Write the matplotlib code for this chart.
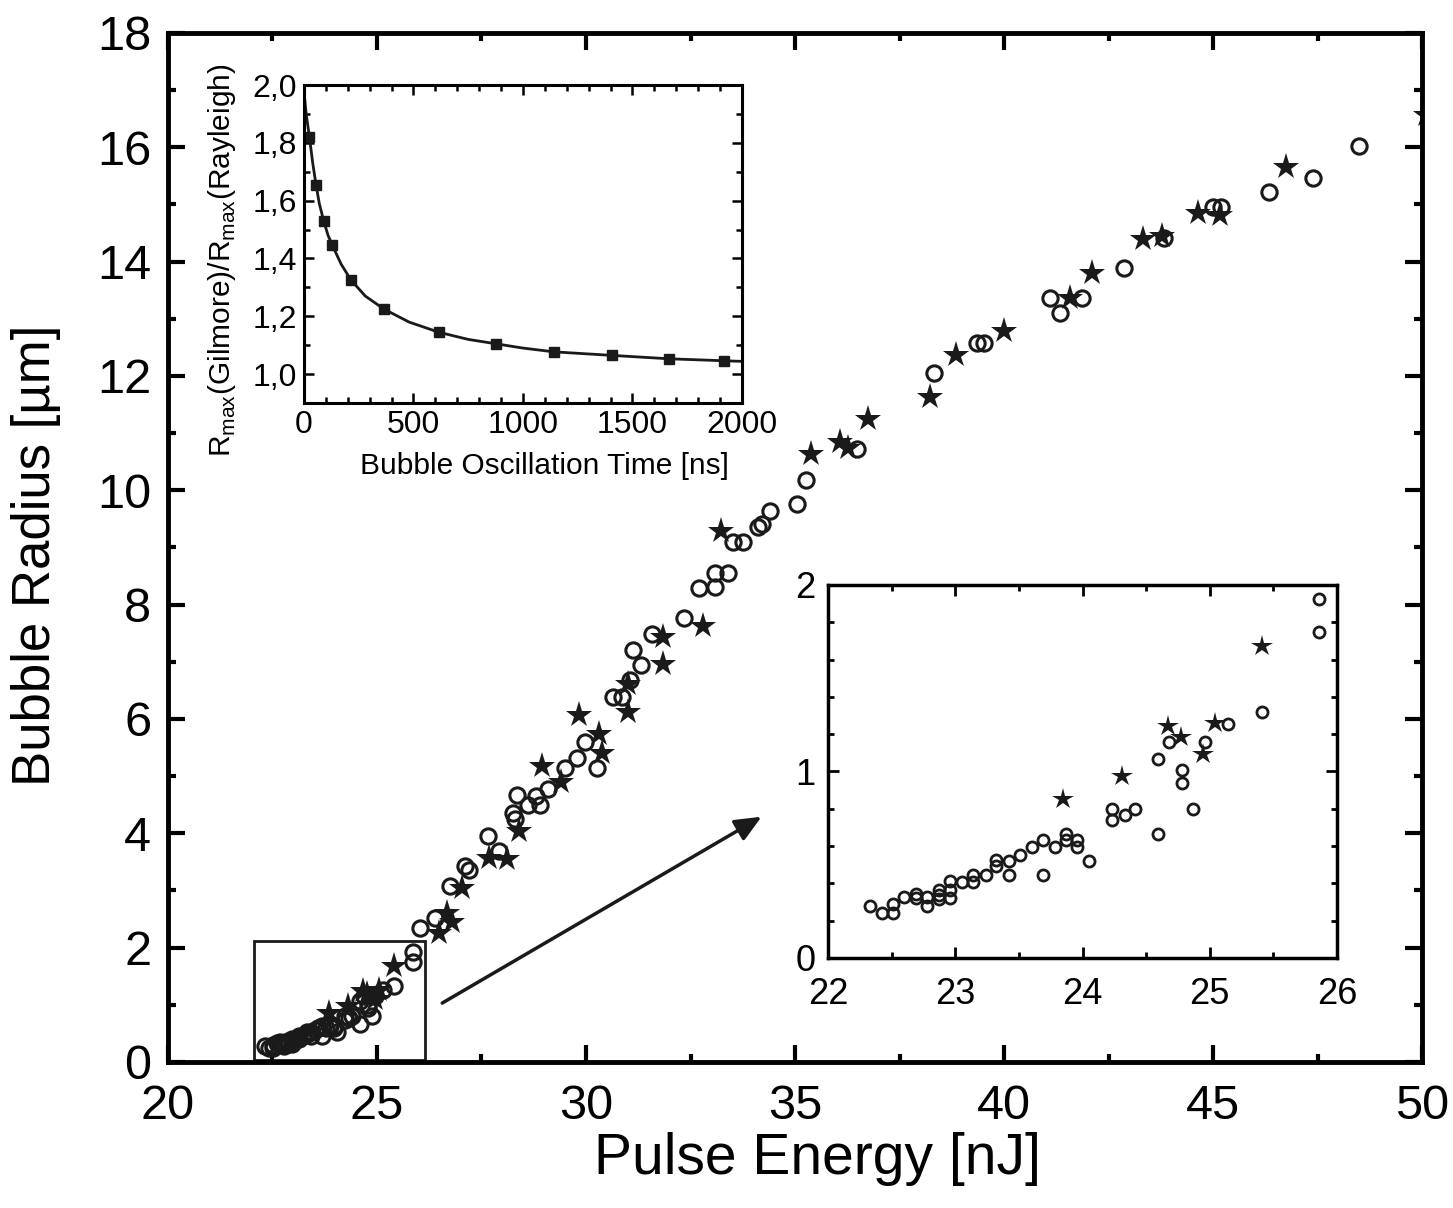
import matplotlib
matplotlib.use("Agg")
import matplotlib.pyplot as plt
from matplotlib.patches import Rectangle
from matplotlib.ticker import MultipleLocator

plt.rcParams['font.family'] = ['Liberation Sans', 'DejaVu Sans']
plt.rcParams['mathtext.fontset'] = 'custom'
plt.rcParams['mathtext.rm'] = 'Liberation Sans'

# low-energy data (22-26 nJ), shown in the zoom inset and in the main plot
low_circ_x = [22.33, 22.42, 22.51, 22.51, 22.60, 22.69, 22.69, 22.78, 22.78, 22.87,
              22.87, 22.87, 22.96, 22.96, 22.96, 23.05, 23.14, 23.14, 23.24, 23.32,
              23.32, 23.42, 23.42, 23.51, 23.60, 23.69, 23.69, 23.78, 23.87, 23.87,
              23.96, 23.96, 24.05, 24.23, 24.23, 24.33, 24.41, 24.59, 24.59, 24.68,
              24.78, 24.78, 24.87, 24.96, 25.14, 25.41, 25.86, 25.86]
low_circ_y = [0.28, 0.24, 0.29, 0.24, 0.325, 0.345, 0.32, 0.325, 0.277, 0.366,
              0.316, 0.34, 0.41, 0.366, 0.32, 0.405, 0.446, 0.405, 0.446, 0.523,
              0.495, 0.518, 0.446, 0.554, 0.595, 0.634, 0.446, 0.595, 0.666, 0.63,
              0.634, 0.595, 0.518, 0.80, 0.737, 0.768, 0.80, 1.066, 0.666, 1.16,
              1.005, 0.94, 0.80, 1.16, 1.255, 1.32, 1.75, 1.925]
low_star_x = [23.85, 24.31, 24.67, 24.77, 24.95, 25.04, 25.41]
low_star_y = [0.854, 0.973, 1.245, 1.184, 1.095, 1.259, 1.67]

# higher-energy data
high_circ_x = [26.03, 26.39, 26.75, 27.11, 27.21, 27.66, 27.93, 28.26, 28.34, 28.30,
               28.62, 28.80, 28.90, 29.10, 29.50, 29.78, 29.98, 30.26, 30.65, 30.85,
               31.05, 31.12, 31.31, 31.57, 32.34, 32.71, 33.09, 33.09, 33.40, 33.52,
               33.76, 34.12, 34.20, 34.39, 35.05, 35.26, 36.49, 38.32, 39.35, 39.52,
               41.09, 41.35, 41.86, 42.88, 43.83, 44.99, 45.18, 46.35, 47.38, 48.48]
high_circ_y = [2.35, 2.52, 3.08, 3.42, 3.35, 3.95, 3.69, 4.35, 4.67, 4.25,
               4.50, 4.65, 4.50, 4.77, 5.14, 5.31, 5.59, 5.15, 6.39, 6.39,
               6.68, 7.21, 6.94, 7.49, 7.76, 8.29, 8.30, 8.56, 8.56, 9.10,
               9.10, 9.36, 9.41, 9.64, 9.76, 10.18, 10.72, 12.05, 12.57, 12.57,
               13.36, 13.11, 13.36, 13.88, 14.42, 14.95, 14.95, 15.22, 15.47, 16.02]
high_star_x = [26.49, 26.67, 26.79, 27.03, 27.69, 28.12, 28.40, 28.94, 29.40, 29.83,
               30.30, 30.38, 31.00, 31.00, 31.84, 31.84, 32.79, 33.23, 35.39, 36.08,
               36.26, 36.74, 38.22, 38.85, 40.01, 41.59, 42.10, 43.32, 43.78, 44.63,
               45.16, 46.75, 50.1]
high_star_y = [2.25, 2.60, 2.45, 3.04, 3.57, 3.55, 4.04, 5.17, 4.89, 6.07,
               5.73, 5.40, 6.12, 6.61, 7.44, 6.97, 7.63, 9.29, 10.63, 10.84,
               10.74, 11.24, 11.64, 12.37, 12.78, 13.37, 13.81, 14.39, 14.45, 14.85,
               14.82, 15.66, 16.56]

# Gilmore / Rayleigh ratio inset
ratio_t = [25, 55, 90, 130, 215, 365, 615, 875, 1140, 1405, 1665, 1920]
ratio_v = [1.82, 1.655, 1.53, 1.445, 1.325, 1.225, 1.145, 1.105, 1.077, 1.066, 1.053, 1.046]
fit_t = [0, 10, 25, 40, 55, 70, 90, 110, 130, 170, 215, 280, 365, 480, 615, 750, 875,
         1000, 1140, 1400, 1665, 1920, 2000]
fit_v = [1.98, 1.90, 1.82, 1.73, 1.655, 1.59, 1.53, 1.48, 1.445, 1.38, 1.325, 1.27,
         1.225, 1.18, 1.145, 1.12, 1.105, 1.09, 1.077, 1.065, 1.053, 1.046, 1.044]


def style_axes(ax, lw, major_len, minor_len, width):
    for s in ax.spines.values():
        s.set_linewidth(lw)
    ax.tick_params(which='both', direction='in', top=True, right=True, width=width)
    ax.tick_params(which='major', length=major_len)
    ax.tick_params(which='minor', length=minor_len)


fig = plt.figure(figsize=(14.53, 12.08), dpi=100)

# main plot
ax = fig.add_axes([0.1156, 0.1209, 0.8631, 0.8518])
all_circ_x = low_circ_x + high_circ_x
all_circ_y = low_circ_y + high_circ_y
all_star_x = low_star_x + high_star_x
all_star_y = low_star_y + high_star_y
ax.plot(all_circ_x, all_circ_y, 'o', ms=11, mfc='none', mec='#1a1a1a', mew=2.2)
ax.plot(all_star_x, all_star_y, '*', ms=20, color='#1a1a1a', mew=0)
ax.set_xlim(20, 50)
ax.set_ylim(0, 18)
ax.xaxis.set_major_locator(MultipleLocator(5))
ax.xaxis.set_minor_locator(MultipleLocator(2.5))
ax.yaxis.set_major_locator(MultipleLocator(2))
ax.yaxis.set_minor_locator(MultipleLocator(1))
style_axes(ax, 3.5, 12, 6, 3)
ax.tick_params(labelsize=35)
ax.tick_params(axis='x', pad=16)
ax.tick_params(axis='y', pad=12)
ax.set_xlabel('Pulse Energy [nJ]', fontsize=41)
ax.xaxis.set_label_coords(0.518, -0.068)
ax.set_ylabel('Bubble Radius [µm]', fontsize=38)
ax.yaxis.set_label_coords(-0.085, 0.492)

ax.add_patch(Rectangle((22.05, 0.03), 4.1, 2.09, fill=False, ec='#1a1a1a', lw=2))
ax.annotate('', xy=(34.2, 4.29), xytext=(26.56, 1.03),
            arrowprops=dict(arrowstyle='-|>,head_length=1.6,head_width=0.7',
                            color='#1a1a1a', lw=2.5, shrinkA=0, shrinkB=0))

# upper inset: Gilmore / Rayleigh ratio
ax1 = fig.add_axes([0.2092, 0.6664, 0.3014, 0.2632])
ax1.plot(fit_t, fit_v, '-', color='#1a1a1a', lw=2)
ax1.plot(ratio_t, ratio_v, 's', ms=7, color='#1a1a1a')
ax1.set_xlim(0, 2000)
ax1.set_ylim(0.9, 2.0)
ax1.xaxis.set_major_locator(MultipleLocator(500))
ax1.xaxis.set_minor_locator(MultipleLocator(100))
ax1.yaxis.set_major_locator(MultipleLocator(0.2))
ax1.yaxis.set_minor_locator(MultipleLocator(0.1))
ax1.set_yticks([1.0, 1.2, 1.4, 1.6, 1.8, 2.0])
ax1.set_yticklabels(['1,0', '1,2', '1,4', '1,6', '1,8', '2,0'])
style_axes(ax1, 2.2, 7, 4, 1.8)
ax1.tick_params(labelsize=23, pad=5)
ax1.set_xlabel('Bubble Oscillation Time [ns]', fontsize=21.5)
ax1.xaxis.set_label_coords(0.55, -0.155)
ax1.set_ylabel(r'R$_{\rm max}$(Gilmore)/R$_{\rm max}$(Rayleigh)', fontsize=21.5)
ax1.yaxis.set_label_coords(-0.15, 0.45)

# lower inset: zoom on 22-26 nJ
ax2 = fig.add_axes([0.5699, 0.2070, 0.3503, 0.3088])
ax2.plot(low_circ_x, low_circ_y, 'o', ms=8, mfc='none', mec='#1a1a1a', mew=2)
ax2.plot(low_star_x, low_star_y, '*', ms=16, color='#1a1a1a', mew=0)
ax2.set_xlim(22, 26)
ax2.set_ylim(0, 2)
ax2.xaxis.set_major_locator(MultipleLocator(1))
ax2.xaxis.set_minor_locator(MultipleLocator(0.5))
ax2.yaxis.set_major_locator(MultipleLocator(1))
ax2.yaxis.set_minor_locator(MultipleLocator(0.2))
style_axes(ax2, 2.5, 8, 4, 2)
ax2.tick_params(labelsize=26)
ax2.tick_params(axis='x', pad=14)
ax2.tick_params(axis='y', pad=9)

fig.savefig('out.png', dpi=100)
